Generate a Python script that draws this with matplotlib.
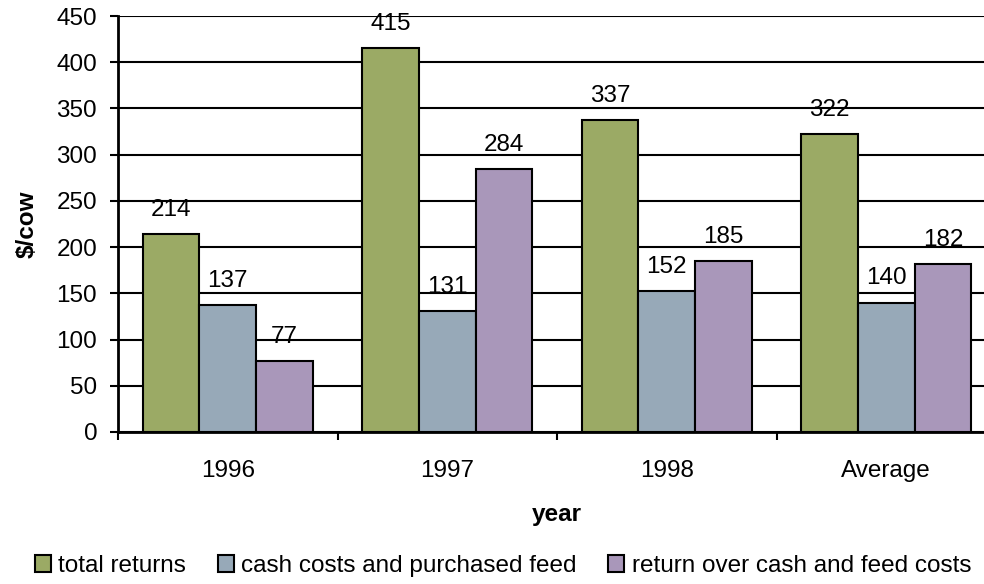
import matplotlib
matplotlib.use('Agg')
import matplotlib.pyplot as plt
import numpy as np

categories = ['1996', '1997', '1998', 'Average']
series_names = ['total returns', 'cash costs and purchased feed', 'return over cash and feed costs']
total_returns = [214, 415, 337, 322]
cash_costs = [137, 131, 152, 140]
return_over = [77, 284, 185, 182]
colors = ['#9BAA65', '#97A9B8', '#A997BA']

plt.rcParams['font.family'] = ['Liberation Sans', 'DejaVu Sans']
fs = 17.5

fig = plt.figure(figsize=(9.84, 5.84), dpi=100)
ax = fig.add_axes([118 / 984, 152 / 584, 878 / 984, 416 / 584])

x = np.arange(len(categories))
bar_w = 0.258
for i, (name, vals) in enumerate(zip(series_names, [total_returns, cash_costs, return_over])):
    pos = x + (i - 1) * bar_w
    ax.bar(pos, vals, width=bar_w, color=colors[i], edgecolor='black',
           linewidth=1.5, label=name, zorder=3)
    for px, v in zip(pos, vals):
        ax.annotate(str(v), (px, v), xytext=(0, 9.5), textcoords='offset points',
                    ha='center', va='bottom', fontsize=fs)

ax.set_xlim(-0.5, len(categories) - 0.5)
ax.set_ylim(0, 450)
ax.set_yticks(np.arange(0, 451, 50))
ax.yaxis.grid(True, color='black', linewidth=1.5, zorder=0)
ax.set_axisbelow(True)

ax.set_xticks(x)
ax.set_xticklabels(categories)
ax.set_xticks(np.arange(-0.5, len(categories), 1), minor=True)
ax.tick_params(axis='x', which='major', length=0, pad=20, labelsize=fs)
ax.tick_params(axis='x', which='minor', length=6, width=1.5, direction='out')
ax.tick_params(axis='y', length=6, width=1.5, pad=9, labelsize=fs)

for s in ['top', 'right']:
    ax.spines[s].set_visible(False)
for s in ['left', 'bottom']:
    ax.spines[s].set_linewidth(2)
    ax.spines[s].set_zorder(4)

ax.set_xlabel('year', fontsize=fs, fontweight='bold', labelpad=15)
ax.set_ylabel('$/cow', fontsize=fs, fontweight='bold', labelpad=13)

fig.legend(loc='center', bbox_to_anchor=(503 / 984, 18 / 584), ncol=3, frameon=False,
           fontsize=fs, handlelength=0.66, handleheight=0.66, handletextpad=0.3,
           columnspacing=1.3, borderaxespad=0)

fig.savefig('out.png', dpi=100)
